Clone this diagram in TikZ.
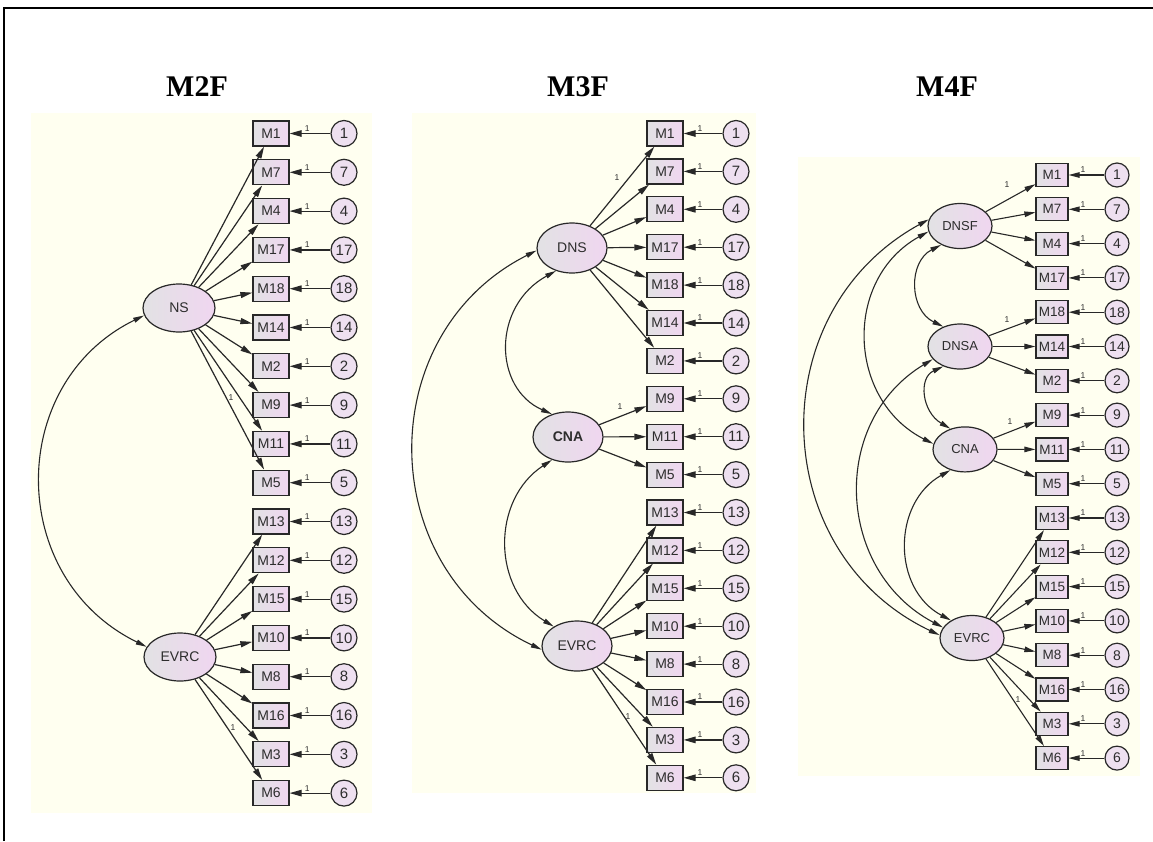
\documentclass[tikz,border=0pt]{standalone}
\usepackage{fontspec}
\usetikzlibrary{arrows.meta,shapes.geometric}
\newfontfamily\arialf{Liberation Sans}
\newfontfamily\timesf{Liberation Serif}
\definecolor{panelC}{RGB}{255,255,240}
\definecolor{lineC}{RGB}{40,40,40}
\definecolor{txtC}{RGB}{45,45,45}
\definecolor{grayF}{RGB}{226,226,228}
\definecolor{pinkF}{RGB}{240,214,240}
\definecolor{errF}{RGB}{238,224,240}
\begin{document}
\begin{tikzpicture}[x=1pt,y=-1pt,
  title/.style={font=\timesf\bfseries\fontsize{30}{30}\selectfont, inner sep=0pt},
  ind/.style={rectangle, draw=lineC, line width=1.2pt, minimum width=36pt, minimum height=25pt, inner sep=0pt, left color=grayF, right color=pinkF, text=txtC, font=\arialf\fontsize{14}{14}\selectfont},
  indc/.style={ind, minimum width=32pt, minimum height=23pt, font=\arialf\fontsize{13.5}{13.5}\selectfont},
  err/.style={circle, draw=lineC, line width=1.2pt, minimum size=26pt, inner sep=0pt, fill=errF, text=txtC, font=\arialf\fontsize{15}{15}\selectfont},
  errc/.style={err, minimum size=24pt, font=\arialf\fontsize{14}{14}\selectfont},
  lat/.style={ellipse, draw=lineC, line width=1.2pt, minimum width=72pt, minimum height=48pt, inner sep=0pt, left color=grayF, right color=pinkF, text=txtC, font=\arialf\fontsize{14}{14}\selectfont},
  latb/.style={lat, minimum width=70pt, minimum height=50pt},
  latc/.style={lat, minimum width=64pt, minimum height=45pt, font=\arialf\fontsize{13}{13}\selectfont},
  load/.style={draw=lineC, line width=1.2pt, -{Triangle[length=12pt,width=6pt]}},
  loadc/.style={draw=lineC, line width=1.1pt, -{Triangle[length=11pt,width=5.5pt]}},
  earr/.style={draw=lineC, line width=1.2pt, -{Triangle[length=12pt,width=6.5pt]}},
  cov/.style={draw=lineC, line width=1.1pt, {Triangle[length=11pt,width=5pt]}-{Triangle[length=11pt,width=5pt]}},
  one/.style={font=\arialf\fontsize{8.5}{8.5}\selectfont, text=txtC, inner sep=1.5pt, above},
  onel/.style={font=\arialf\fontsize{8.5}{8.5}\selectfont, text=txtC, inner sep=0pt}
]
\useasboundingbox (0,0) rectangle (1153,841);
\fill[white] (0,0) rectangle (1153,841);
% frame
\draw[line width=2pt, black] (4,841) -- (4,8) -- (1153,8);
% panels
\fill[panelC] (31,113) rectangle (372,813);
\fill[panelC] (412,113) rectangle (756,793);
\fill[panelC] (798,157) rectangle (1140,776);
% titles
\node[title] (t1) at (197,87) {M2F};
\node[title] (t2) at (578,87) {M3F};
\node[title] (t3) at (947,87) {M4F};

% ---------- Panel 1 : M2F ----------
\foreach \lab/\er [count=\i from 0] in {M1/1,M7/7,M4/4,M17/17,M18/18,M14/14,M2/2,M9/9,M11/11,M5/5,M13/13,M12/12,M15/15,M10/10,M8/8,M16/16,M3/3,M6/6}{
  \pgfmathsetmacro\yy{133.5+38.8*\i}
  \node[ind] (a\lab) at (271,\yy) {\lab};
  \node[err] (ae\er) at (344,\yy) {\er};
  \draw[earr] (ae\er) -- node[one,pos=0.57]{1} (a\lab);
}
\node[lat] (aNS) at (179,308) {NS};
\node[lat] (aEVRC) at (180,657) {EVRC};
\foreach \lab in {M1,M7,M4,M17,M18,M14,M2,M9,M11,M5}{\draw[load] (aNS) -- (a\lab);}
\foreach \lab in {M13,M12,M15,M10,M8,M16,M3,M6}{\draw[load] (aEVRC) -- (a\lab);}
\draw[cov] (aNS.192) .. controls (6,383) and (6,578) .. (aEVRC.163);
\node[onel] (al1) at (231,398) {1};
\node[onel] (al2) at (233,728) {1};

% ---------- Panel 2 : M3F ----------
\foreach \lab/\er [count=\i from 0] in {M1/1,M7/7,M4/4,M17/17,M18/18,M14/14,M2/2,M9/9,M11/11,M5/5,M13/13,M12/12,M15/15,M10/10,M8/8,M16/16,M3/3,M6/6}{
  \pgfmathsetmacro\yy{133.5+37.9*\i}
  \node[ind] (b\lab) at (665,\yy) {\lab};
  \node[err] (be\er) at (736,\yy) {\er};
  \draw[earr] (be\er) -- node[one,pos=0.58]{1} (b\lab);
}
\node[latb] (bDNS) at (572,248) {DNS};
\node[latb, font=\arialf\bfseries\fontsize{14}{14}\selectfont] (bCNA) at (568,437) {CNA};
\node[latb] (bEVRC) at (577,646) {EVRC};
\foreach \lab in {M1,M7,M4,M17,M18,M14,M2}{\draw[load] (bDNS) -- (b\lab);}
\foreach \lab in {M9,M11,M5}{\draw[load] (bCNA) -- (b\lab);}
\foreach \lab in {M13,M12,M15,M10,M8,M16,M3,M6}{\draw[load] (bEVRC) -- (b\lab);}
\draw[cov] (bDNS.184) .. controls (371,334) and (374,570) .. (bEVRC.186);
\draw[cov] (bDNS.235) .. controls (492,306) and (493,388) .. (bCNA.125);
\draw[cov] (bCNA.235) .. controls (491,500) and (492,589) .. (bEVRC.140);
\node[onel] (bl1) at (617,178) {1};
\node[onel] (bl2) at (620,407) {1};
\node[onel] (bl3) at (628,717) {1};

% ---------- Panel 3 : M4F ----------
\foreach \lab/\er [count=\i from 0] in {M1/1,M7/7,M4/4,M17/17,M18/18,M14/14,M2/2,M9/9,M11/11,M5/5,M13/13,M12/12,M15/15,M10/10,M8/8,M16/16,M3/3,M6/6}{
  \pgfmathsetmacro\yy{175+34.3*\i}
  \node[indc] (c\lab) at (1052,\yy) {\lab};
  \node[errc] (ce\er) at (1117,\yy) {\er};
  \draw[loadc] (ce\er) -- node[one,pos=0.6]{1} (c\lab);
}
\node[latc] (cDNSF) at (960,226) {DNSF};
\node[latc] (cDNSA) at (960,346.5) {DNSA};
\node[latc] (cCNA) at (965,449.4) {CNA};
\node[latc] (cEVRC) at (972,638) {EVRC};
\foreach \lab in {M1,M7,M4,M17}{\draw[loadc] (cDNSF) -- (c\lab);}
\foreach \lab in {M18,M14,M2}{\draw[loadc] (cDNSA) -- (c\lab);}
\foreach \lab in {M9,M11,M5}{\draw[loadc] (cCNA) -- (c\lab);}
\foreach \lab in {M13,M12,M15,M10,M8,M16,M3,M6}{\draw[loadc] (cEVRC) -- (c\lab);}
\draw[cov] (cDNSF.225) .. controls (908,262) and (909,310) .. (cDNSA.130);
\draw[cov] (cDNSA.230) .. controls (918,378) and (922,412) .. (cCNA.125);
\draw[cov] (cCNA.235) .. controls (892,503) and (892,589) .. (cEVRC.140);
\draw[cov] (cDNSF.190) .. controls (843,279) and (847,400) .. (cCNA.170);
\draw[cov] (cDNSA.205) .. controls (829,422) and (836,571) .. (cEVRC.160);
\draw[cov] (cDNSF.168) .. controls (760,312) and (767,553) .. (cEVRC.175);
\node[onel] (cl1) at (1007,185) {1};
\node[onel] (cl2) at (1007,320) {1};
\node[onel] (cl3) at (1010,422) {1};
\node[onel] (cl4) at (1018,700) {1};
\end{tikzpicture}
\end{document}
